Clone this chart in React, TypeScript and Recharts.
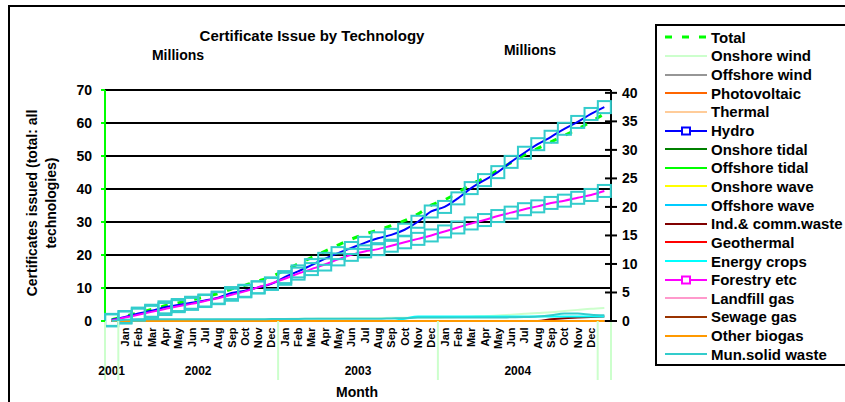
import { LineChart, Line, XAxis, YAxis, ReferenceLine } from "recharts";

const FONT = '"Liberation Sans", Arial, sans-serif';

const months = [
  "",
  "Jan", "Feb", "Mar", "Apr", "May", "Jun", "Jul", "Aug", "Sep", "Oct", "Nov", "Dec",
  "Jan", "Feb", "Mar", "Apr", "May", "Jun", "Jul", "Aug", "Sep", "Oct", "Nov", "Dec",
  "Jan", "Feb", "Mar", "Apr", "May", "Jun", "Jul", "Aug", "Sep", "Oct", "Nov", "Dec",
  "",
];
const years = [
  "2001",
  "2002", "2002", "2002", "2002", "2002", "2002", "2002", "2002", "2002", "2002", "2002", "2002",
  "2003", "2003", "2003", "2003", "2003", "2003", "2003", "2003", "2003", "2003", "2003", "2003",
  "2004", "2004", "2004", "2004", "2004", "2004", "2004", "2004", "2004", "2004", "2004", "2004",
  "",
];

const leftTicks = [0, 10, 20, 30, 40, 50, 60, 70];
const rightTicks = [0, 5, 10, 15, 20, 25, 30, 35, 40];

// millions, left axis
const total = [
  0.4, 1.4, 2.5, 3.5, 4.6, 5.5, 6.4, 7.3, 8.3, 9.7, 10.8, 12.1, 13.4, 15.4, 17.3, 19.2, 21.1, 23.0, 24.8,
  26.3, 27.6, 28.9, 30.4, 32.4, 35.1, 36.7, 38.9, 41.4, 43.4, 45.7, 48.0, 50.3, 52.3, 54.3, 56.2, 58.2, 60.4, 62.8,
];
// millions, right axis
const hydro = [
  0.2, 0.7, 1.3, 1.8, 2.4, 2.8, 3.2, 3.6, 4.1, 4.9, 5.3, 5.9, 6.5, 7.7, 8.7, 9.8, 10.9, 11.9, 12.8,
  13.7, 14.5, 15.1, 16.0, 17.4, 19.2, 20.0, 21.5, 23.3, 24.7, 26.1, 27.9, 29.5, 31.0, 32.3, 33.7, 34.9, 36.3, 37.5,
];
const forestry = [
  0.1, 0.6, 1.1, 1.6, 2.1, 2.6, 3.0, 3.5, 4.0, 4.6, 5.2, 5.9, 6.6, 7.4, 8.3, 9.1, 9.9, 10.8, 11.6,
  12.2, 12.6, 13.2, 13.8, 14.4, 15.0, 15.7, 16.4, 17.1, 17.7, 18.4, 19.0, 19.6, 20.1, 20.7, 21.1, 21.6, 22.1, 22.8,
];
const onshoreWind = [
  0, 0.05, 0.1, 0.1, 0.15, 0.15, 0.2, 0.2, 0.25, 0.25, 0.3, 0.3, 0.35, 0.35, 0.4, 0.4, 0.45, 0.45, 0.5,
  0.5, 0.5, 0.55, 0.55, 0.6, 0.6, 0.65, 0.7, 0.75, 0.85, 0.95, 1.1, 1.25, 1.4, 1.55, 1.75, 1.95, 2.15, 2.3,
];
const energyCrops = [
  0, 0, 0, 0, 0, 0, 0, 0, 0, 0, 0, 0, 0, 0, 0, 0, 0, 0, 0,
  0, 0, 0, 0.4, 0.8, 0.8, 0.8, 0.8, 0.8, 0.8, 0.8, 0.8, 0.8, 0.8, 0.8, 0.8, 0.8, 0.8, 0.8,
];
const indCommWaste = [
  0, 0, 0, 0, 0, 0, 0, 0, 0, 0, 0, 0, 0, 0, 0, 0, 0, 0, 0,
  0, 0, 0, 0, 0, 0, 0, 0, 0, 0, 0, 0, 0, 0, 0.3, 0.5, 0.6, 0.7, 0.8,
];
const munSolidWaste = [
  0, 0.2, 0.3, 0.3, 0.3, 0.3, 0.3, 0.3, 0.3, 0.3, 0.3, 0.3, 0.35, 0.35, 0.35, 0.4, 0.4, 0.4, 0.4,
  0.4, 0.4, 0.45, 0.5, 0.6, 0.6, 0.6, 0.6, 0.6, 0.6, 0.6, 0.65, 0.7, 0.8, 1.0, 1.3, 1.3, 1.1, 1.0,
];
const nil = [
  0, 0, 0, 0, 0, 0, 0, 0, 0, 0, 0, 0, 0, 0, 0, 0, 0, 0, 0,
  0, 0, 0, 0, 0, 0, 0, 0, 0, 0, 0, 0, 0, 0, 0, 0, 0, 0, 0,
];

type Series = {
  key: string;
  name: string;
  color: string;
  values: number[];
  axis: string;
  dash?: string;
  width?: number;
  marker?: boolean;
};

const series: Series[] = [
  { key: "total", name: "Total", color: "#00FF00", values: total, axis: "left", dash: "7 10", width: 3 },
  { key: "onw", name: "Onshore wind", color: "#CCFFCC", values: onshoreWind, axis: "right" },
  { key: "ofw", name: "Offshore wind", color: "#969696", values: nil, axis: "right" },
  { key: "pv", name: "Photovoltaic", color: "#FF6600", values: nil, axis: "right" },
  { key: "th", name: "Thermal", color: "#FFCC99", values: nil, axis: "right" },
  { key: "hy", name: "Hydro", color: "#0000FF", values: hydro, axis: "right", marker: true },
  { key: "ont", name: "Onshore tidal", color: "#008000", values: nil, axis: "right" },
  { key: "oft", name: "Offshore tidal", color: "#00FF00", values: nil, axis: "right" },
  { key: "onwv", name: "Onshore wave", color: "#FFFF00", values: nil, axis: "right" },
  { key: "ofwv", name: "Offshore wave", color: "#00CCFF", values: nil, axis: "right" },
  { key: "icw", name: "Ind.& comm.waste", color: "#800000", values: indCommWaste, axis: "right" },
  { key: "geo", name: "Geothermal", color: "#FF0000", values: nil, axis: "right" },
  { key: "ec", name: "Energy crops", color: "#00FFFF", values: energyCrops, axis: "right" },
  { key: "fo", name: "Forestry etc", color: "#FF00FF", values: forestry, axis: "right", marker: true },
  { key: "lg", name: "Landfill gas", color: "#FF99CC", values: nil, axis: "right" },
  { key: "sg", name: "Sewage gas", color: "#993300", values: nil, axis: "right" },
  { key: "ob", name: "Other biogas", color: "#FF9900", values: nil, axis: "right" },
  { key: "msw", name: "Mun.solid waste", color: "#33CCCC", values: munSolidWaste, axis: "right" },
];

const data = months.map((m, i) => {
  const row: Record<string, any> = { idx: i, month: m, year: years[i] };
  series.forEach((s) => (row[s.key] = s.values[i]));
  return row;
});

const txt = { fontFamily: FONT, fontWeight: "bold" as const, fill: "#000" };

function Square(props: any) {
  const { cx, cy, index } = props;
  if (cx == null || cy == null) return <g key={index} />;
  return (
    <rect key={index} x={cx - 6.5} y={cy - 6} width={13} height={12} fill="none" stroke="#33CCCC" strokeWidth={2} />
  );
}

function MonthTick(props: any) {
  const { x, y, index, width, visibleTicksCount } = props;
  const half = width / visibleTicksCount / 2;
  const parts: any[] = [];
  parts.push(
    <text key="m" transform={`translate(${x + 4},${y + 6.5}) rotate(-90)`} textAnchor="end" fontSize={11} {...txt}>
      {months[index]}
    </text>
  );
  if (index === 0 || years[index] !== years[index - 1]) {
    let n = 0;
    while (index + n < years.length && years[index + n] === years[index]) n++;
    const left = x - half;
    parts.push(<line key="d" x1={left} x2={left} y1={y} y2={y + 59} stroke="#CCFFCC" strokeWidth={2} />);
    if (years[index])
      parts.push(
        <text key="y" x={left + n * half} y={y + 54} textAnchor="middle" fontSize={12} {...txt}>
          {years[index]}
        </text>
      );
  }
  if (index === months.length - 1)
    parts.push(<line key="e" x1={x + half} x2={x + half} y1={y} y2={y + 59} stroke="#CCFFCC" strokeWidth={2} />);
  return <g>{parts}</g>;
}

function LeftTick(props: any) {
  const { x, y, payload } = props;
  return (
    <g>
      <line x1={x - 4} x2={x} y1={y} y2={y} stroke="#00FF00" strokeWidth={2} />
      <text x={x - 13} y={y} dy={5} textAnchor="end" fontSize={14} {...txt}>
        {payload.value}
      </text>
    </g>
  );
}

function RightTick(props: any) {
  const { x, y, payload } = props;
  return (
    <g>
      <line x1={x - 6} x2={x + 6} y1={y} y2={y} stroke="#000" strokeWidth={2} />
      <text x={x + 11} y={y} dy={5} textAnchor="start" fontSize={14} {...txt}>
        {payload.value}
      </text>
    </g>
  );
}

function LegendIcon({ s }: { s: Series }) {
  return (
    <svg width={42} height={10} style={{ display: "block" }}>
      <line x1={0} x2={42} y1={5} y2={5} stroke={s.color} strokeWidth={s.width ?? 2} strokeDasharray={s.dash} />
      {s.marker && <rect x={17} y={1.5} width={8} height={7} fill="#fff" stroke={s.color} strokeWidth={2} />}
    </svg>
  );
}

const abs = (left: number, top: number, extra: any = {}) => ({
  position: "absolute" as const,
  left,
  top,
  fontFamily: FONT,
  fontWeight: "bold" as const,
  color: "#000",
  whiteSpace: "nowrap" as const,
  ...extra,
});

export default function App() {
  return (
    <div style={{ position: "fixed", left: 0, top: 0, width: 845, height: 402, overflow: "hidden", background: "#fff" }}>
      <div style={{ position: "absolute", left: 8, top: 5, width: 900, height: 500, border: "2px solid #000" }} />
      <div style={{ position: "absolute", left: 0, top: 0 }}>
        <LineChart width={845} height={402} data={data} margin={{ top: 90, right: 194, bottom: 11, left: 45 }}>
          <XAxis
            dataKey="idx"
            scale="band"
            interval={0}
            height={70}
            tickLine={false}
            tickSize={0}
            tickMargin={0}
            axisLine={false}
            tick={<MonthTick />}
          />
          <YAxis
            yAxisId="left"
            domain={[0, 70]}
            ticks={leftTicks}
            width={60}
            tickLine={false}
            tickSize={0}
            tickMargin={0}
            axisLine={{ stroke: "#00FF00", strokeWidth: 2 }}
            tick={<LeftTick />}
          />
          <YAxis
            yAxisId="right"
            orientation="right"
            domain={[0, 40.5]}
            ticks={rightTicks}
            width={40}
            tickLine={false}
            tickSize={0}
            tickMargin={0}
            axisLine={{ stroke: "#000", strokeWidth: 2 }}
            tick={<RightTick />}
          />
          {leftTicks
            .filter((v) => v > 0)
            .map((v) => (
              <ReferenceLine key={v} yAxisId="left" y={v} stroke="#000" strokeWidth={2} />
            ))}
          {series.map((s) => (
            <Line
              key={s.key}
              yAxisId={s.axis}
              dataKey={s.key}
              name={s.name}
              type="monotone"
              stroke={s.color}
              strokeWidth={s.width ?? 2}
              strokeDasharray={s.dash}
              dot={s.marker ? (p: any) => <Square {...p} /> : false}
              activeDot={false}
              isAnimationActive={false}
            />
          ))}
        </LineChart>
      </div>

      <div style={abs(312, 35, { fontSize: 15, transform: "translate(-50%,-50%)" })}>Certificate Issue by Technology</div>
      <div style={abs(178, 55, { fontSize: 14, transform: "translate(-50%,-50%)" })}>Millions</div>
      <div style={abs(530, 50, { fontSize: 14, transform: "translate(-50%,-50%)" })}>Millions</div>
      <div style={abs(357, 392, { fontSize: 14, transform: "translate(-50%,-50%)" })}>Month</div>
      <div
        style={abs(42, 203, {
          fontSize: 14,
          lineHeight: "19px",
          width: 260,
          textAlign: "center",
          transform: "translate(-50%,-50%) rotate(-90deg)",
        })}
      >
        Certificates issued (total: all
        <br />
        technologies)
      </div>

      <div style={{ position: "absolute", left: 655, top: 24, width: 220, height: 338, border: "2px solid #000", background: "#fff" }}>
        <div style={{ paddingTop: 2, paddingLeft: 8 }}>
          {series.map((s) => (
            <div key={s.key} style={{ display: "flex", alignItems: "center", height: 18.65 }}>
              <LegendIcon s={s} />
              <span style={{ marginLeft: 4, fontFamily: FONT, fontWeight: "bold", fontSize: 15, whiteSpace: "nowrap" }}>{s.name}</span>
            </div>
          ))}
        </div>
      </div>
    </div>
  );
}
